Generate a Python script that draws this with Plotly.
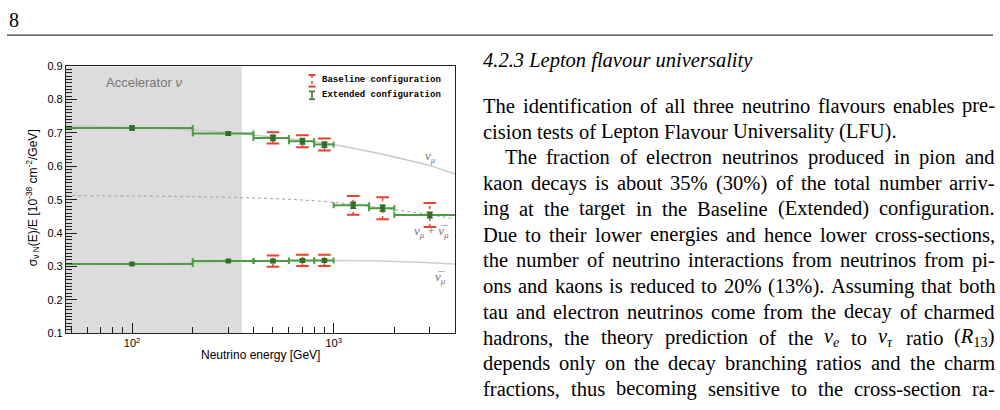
import math
import plotly.graph_objects as go

# ---------------- data ----------------
# theory curves  sigma/E  vs  E
E_curve = [47, 100, 200, 300, 500, 700, 1000, 1500, 2000, 3000, 4000]
numu_curve = [0.722, 0.716, 0.709, 0.701, 0.688, 0.678, 0.665, 0.644, 0.628, 0.602, 0.577]
sum_curve = [0.512, 0.511, 0.509, 0.507, 0.503, 0.499, 0.492, 0.480, 0.470, 0.455, 0.442]
nubar_curve = [0.305, 0.307, 0.311, 0.314, 0.316, 0.317, 0.318, 0.317, 0.315, 0.311, 0.307]

# Extended configuration (green) - nu_mu and anti-nu_mu bins
E_lo = [40, 200, 400, 600, 800]
E_hi = [200, 400, 600, 800, 1000]
E_pt = [100, 300, 500, 700, 900]
numu_ext = [0.715, 0.698, 0.685, 0.675, 0.665]
numu_ext_err = [0.006, 0.005, 0.008, 0.008, 0.008]
nubar_ext = [0.307, 0.316, 0.316, 0.318, 0.318]
nubar_ext_err = [0.003, 0.003, 0.004, 0.004, 0.004]
# nu_mu + anti-nu_mu bins
Esum_lo = [1000, 1500, 2000]
Esum_hi = [1500, 2000, 5000]
Esum_pt = [1250, 1750, 3000]
sum_ext = [0.483, 0.474, 0.454]
sum_ext_err = [0.009, 0.009, 0.008]

# Baseline configuration (red dotted)
Eb = [500, 700, 900]
numu_base = [0.685, 0.675, 0.665]
numu_base_err = [0.017, 0.018, 0.018]
nubar_base = [0.316, 0.318, 0.318]
nubar_base_err = [0.017, 0.017, 0.017]
Ebs = [1250, 1750, 3000]
sum_base = [0.483, 0.474, 0.454]
sum_base_err = [0.028, 0.033, 0.036]

# accelerator region
acc_E = [40, 350]
y_range = [0.1, 0.9]
x_range = [47, 4000]

# ---------------- page geometry helpers ----------------
W, H = 1000, 410
def px(x):
    return x / W
def py(y):
    return 1 - y / H

GREEN_LINE = "#4e9a45"
GREEN_MK = "#2f6f2a"
RED = "#e8412c"

fig = go.Figure()

# shaded accelerator region
fig.add_trace(go.Scatter(
    x=[acc_E[0], acc_E[1], acc_E[1], acc_E[0], acc_E[0]],
    y=[y_range[0], y_range[0], y_range[1], y_range[1], y_range[0]],
    fill="toself", fillcolor="#dcdcdc", mode="none", hoverinfo="skip", showlegend=False))

# theory curves
fig.add_trace(go.Scatter(x=E_curve, y=numu_curve, mode="lines", line=dict(color="#c8c8c8", width=1.5, shape="spline"), showlegend=False))
fig.add_trace(go.Scatter(x=E_curve, y=sum_curve, mode="lines", line=dict(color="#a0a0a0", width=1, dash="dot", shape="spline"), showlegend=False))
fig.add_trace(go.Scatter(x=E_curve, y=nubar_curve, mode="lines", line=dict(color="#d0d0d0", width=1.5, shape="spline"), showlegend=False))

# baseline (red dotted error bars with caps)
def red_bars(xs, ys, es):
    lx, ly, cx, cy = [], [], [], []
    for x, y, e in zip(xs, ys, es):
        lx += [x, x, None]
        ly += [y - e, y + e, None]
        cx += [x, x]
        cy += [y - e, y + e]
    fig.add_trace(go.Scatter(x=lx, y=ly, mode="lines", line=dict(color=RED, width=1.5, dash="dot"), showlegend=False))
    fig.add_trace(go.Scatter(x=cx, y=cy, mode="markers", marker=dict(symbol="line-ew", size=9, line=dict(color=RED, width=2)), showlegend=False))

red_bars(Eb, numu_base, numu_base_err)
red_bars(Eb, nubar_base, nubar_base_err)
red_bars(Ebs, sum_base, sum_base_err)

# extended (green)
def green(xs, lo, hi, ys, es):
    fig.add_trace(go.Scatter(
        x=xs, y=ys, mode="markers",
        marker=dict(symbol="square", size=5, color=GREEN_MK),
        error_x=dict(type="data", symmetric=False,
                     array=[h - x for x, h in zip(xs, hi)],
                     arrayminus=[x - l for x, l in zip(xs, lo)],
                     color=GREEN_LINE, thickness=2, width=3),
        error_y=dict(type="data", array=es, color=GREEN_MK, thickness=1.5, width=3),
        showlegend=False))

green(E_pt, E_lo, E_hi, numu_ext, numu_ext_err)
green(E_pt, E_lo, E_hi, nubar_ext, nubar_ext_err)
green(Esum_pt, Esum_lo, Esum_hi, sum_ext, sum_ext_err)

AX_FONT = dict(family="Liberation Sans, Arial, sans-serif", size=11, color="#000")

fig.update_layout(
    width=W, height=H,
    margin=dict(l=0, r=0, t=0, b=0),
    paper_bgcolor="white", plot_bgcolor="white",
    showlegend=False,
    xaxis=dict(
        type="log", range=[math.log10(x_range[0]), math.log10(x_range[1])],
        domain=[px(66), px(455)],
        showgrid=False, zeroline=False,
        showline=True, linecolor="#222", linewidth=1.2, mirror=True,
        ticks="inside", ticklen=10, tickwidth=1, tickcolor="#222",
        tickmode="array", tickvals=[100, 1000],
        ticktext=["10<sup>2</sup>", "10<sup>3</sup>"],
        tickfont=AX_FONT,
        minor=dict(tickmode="array",
                   tickvals=[50, 60, 70, 80, 90, 200, 300, 400, 500, 600, 700, 800, 900, 2000, 3000],
                   ticks="inside", ticklen=6, tickcolor="#222", tickwidth=1),
    ),
    yaxis=dict(
        range=y_range, domain=[py(337), py(62)],
        showgrid=False, zeroline=False,
        showline=True, linecolor="#222", linewidth=1.2, mirror=True,
        ticks="inside", ticklen=11, tickwidth=1, tickcolor="#222",
        dtick=0.1, tick0=0.1, tickformat=".1f",
        tickfont=AX_FONT,
        minor=dict(dtick=0.01, ticks="inside", ticklen=6, tickcolor="#222", tickwidth=1),
    ),
)

ann = []
shapes = []

def A(x, y, text, size=12, color="#000", family="Liberation Sans, Arial, sans-serif", xanchor="center", angle=0):
    ann.append(dict(x=px(x), y=py(y), xref="paper", yref="paper", text=text, showarrow=False,
                    xanchor=xanchor, yanchor="middle", textangle=angle,
                    font=dict(size=size, color=color, family=family)))

# axis titles
A(33, 198, "σ<sub>ν N</sub>(E)/E [10<sup>-38</sup> cm<sup>-2</sup>/GeV]", size=12, angle=-90)
A(322, 360, "Neutrino energy [GeV]", size=12, xanchor="right")
# region label
A(144, 79, "Accelerator <i>ν</i>", size=13, color="#777")
# curve labels
SER = "Liberation Serif, Times New Roman, serif"
A(430, 155, "<i>ν</i><sub><i>μ</i></sub>", size=13, color="#777", family=SER)
A(431, 232, "<i>ν</i><sub><i>μ</i></sub> + <i>ν̅</i><sub><i>μ</i></sub>", size=13, color="#777", family=SER)
A(440, 280, "<i>ν̅</i><sub><i>μ</i></sub>", size=13, color="#777", family=SER)

# legend
MONO = "Liberation Mono, Courier New, monospace"
A(320, 76, "<b>Baseline configuration</b>", size=9, family=MONO, xanchor="left")
A(320, 92, "<b>Extended configuration</b>", size=9, family=MONO, xanchor="left")
def L(x0, y0, x1, y1, color, width=1.5, dash=None):
    d = dict(type="line", xref="paper", yref="paper", x0=px(x0), y0=py(y0), x1=px(x1), y1=py(y1),
             line=dict(color=color, width=width))
    if dash:
        d["line"]["dash"] = dash
    shapes.append(d)
L(312, 71, 312, 83, RED, 1.5, "dot")
L(308.5, 71, 315.5, 71, RED, 2)
L(308.5, 83, 315.5, 83, RED, 2)
L(312, 88, 312, 96, GREEN_MK, 1.5)
L(309, 88, 315, 88, GREEN_MK, 1.5)
L(309, 96, 315, 96, GREEN_MK, 1.5)

# ---------------- page text ----------------
FS = 20.5
X_L, X_R = 481, 993
LINE0, DY = 103, 26.5
INDENT = 22

# page header
A(7, 14, "8", size=20, family=SER, xanchor="left")
L(7, 30, 993, 30, "#000", 1)

A(X_L, 56, "<i>4.2.3 Lepton flavour universality</i>", size=FS, family=SER, xanchor="left")

# Times-like widths (per 1000 em)
CW = {' ': 250, 'a': 444, 'b': 500, 'c': 444, 'd': 500, 'e': 444, 'f': 333, 'g': 500, 'h': 500, 'i': 278,
      'j': 278, 'k': 500, 'l': 278, 'm': 778, 'n': 500, 'o': 500, 'p': 500, 'q': 500, 'r': 333, 's': 389,
      't': 278, 'u': 500, 'v': 500, 'w': 722, 'x': 500, 'y': 500, 'z': 444,
      'A': 722, 'B': 667, 'C': 667, 'D': 722, 'E': 611, 'F': 556, 'G': 722, 'H': 722, 'I': 333, 'J': 389,
      'K': 722, 'L': 611, 'M': 889, 'N': 722, 'O': 722, 'P': 556, 'Q': 722, 'R': 667, 'S': 556, 'T': 611,
      'U': 722, 'V': 722, 'W': 944, 'X': 722, 'Y': 722, 'Z': 611,
      '.': 250, ',': 250, '(': 333, ')': 333, '-': 333, '%': 833, ':': 278, ';': 278}
for dgt in "0123456789":
    CW[dgt] = 500

SPECIAL = {
    "NUE": ("<i>ν</i><sub><i>e</i></sub>", 0.46 + 0.7 * 0.444),
    "NUTAU": ("<i>ν</i><sub><i>τ</i></sub>", 0.46 + 0.7 * 0.44),
    "R13": ("(<i>R</i><sub>13</sub>)", 0.333 + 0.611 + 0.7 * 1.0 + 0.333),
}

def word_w(w):
    if w in SPECIAL:
        return SPECIAL[w][1]
    return sum(CW.get(c, 500) for c in w) / 1000.0

body = [
    ("The identification of all three neutrino flavours enables pre-", True, False),
    ("cision tests of Lepton Flavour Universality (LFU).", False, False),
    ("The fraction of electron neutrinos produced in pion and", True, True),
    ("kaon decays is about 35% (30%) of the total number arriv-", True, False),
    ("ing at the target in the Baseline (Extended) configuration.", True, False),
    ("Due to their lower energies and hence lower cross-sections,", True, False),
    ("the number of neutrino interactions from neutrinos from pi-", True, False),
    ("ons and kaons is reduced to 20% (13%). Assuming that both", True, False),
    ("tau and electron neutrinos come from the decay of charmed", True, False),
    ("hadrons, the theory prediction of the NUE to NUTAU ratio R13", True, False),
    ("depends only on the decay branching ratios and the charm", True, False),
    ("fractions, thus becoming sensitive to the cross-section ra-", True, False),
]

for i, (line, just, indent) in enumerate(body):
    y = LINE0 + i * DY
    words = line.split(" ")
    widths = [word_w(w) * FS for w in words]
    x0 = X_L + (INDENT if indent else 0)
    if just and len(words) > 1:
        gap = (X_R - x0 - sum(widths)) / (len(words) - 1)
    else:
        gap = 0.25 * FS
    x = x0
    for w, wd in zip(words, widths):
        txt = SPECIAL[w][0] if w in SPECIAL else w
        A(x, y, txt, size=FS, family=SER, xanchor="left")
        x += wd + gap

fig.update_layout(annotations=ann, shapes=shapes)
fig.write_html("out.html")
